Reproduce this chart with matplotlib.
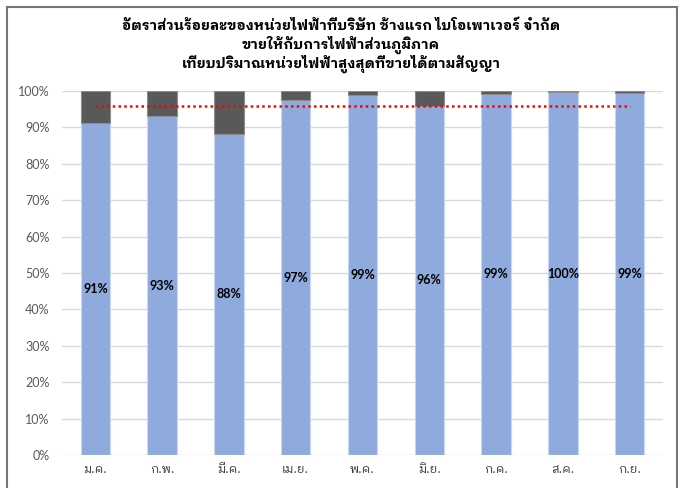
import matplotlib
matplotlib.use("Agg")
import matplotlib.pyplot as plt
from matplotlib.patches import Rectangle
import numpy as np

months = ["ม.ค.", "ก.พ.", "มี.ค.", "เม.ย.", "พ.ค.", "มิ.ย.", "ก.ค.", "ส.ค.", "ก.ย."]
sold_pct = [91.1, 93.0, 88.2, 97.4, 98.9, 96.0, 99.3, 99.6, 99.4]
target_pct = 96.0
title_lines = ["อัตราส่วนร้อยละของหน่วยไฟฟ้าที่บริษัท ช้างแรก ไบโอเพาเวอร์ จำกัด",
               "ขายให้กับการไฟฟ้าส่วนภูมิภาค",
               "เทียบปริมาณหน่วยไฟฟ้าสูงสุดที่ขายได้ตามสัญญา"]
yticks = [0, 10, 20, 30, 40, 50, 60, 70, 80, 90, 100]

thai = ['IBM Plex Sans Thai Looped', 'Noto Sans Thai Looped', 'DejaVu Sans']
latin = ['Lato', 'DejaVu Sans']

W, H = 685, 488
fig = plt.figure(figsize=(W / 100, H / 100), dpi=100)
ax = fig.add_axes([62 / W, (H - 455) / H, (663 - 62) / W, (455 - 91) / H])

x = np.arange(len(months))
blue = np.array(sold_pct) / 100.0
rest = 1.0 - blue
bw = 0.44
ax.bar(x, blue, width=bw, color="#8FAADC", edgecolor="#C9D7F0", linewidth=0.8, zorder=2)
ax.bar(x, rest, bottom=blue, width=bw, color="#595959", edgecolor="#8C8C8C", linewidth=0.8, zorder=2)

ax.plot([x[0], x[-1]], [target_pct / 100.0] * 2, color="#FF0000", linestyle=(0, (1, 1.3)),
        linewidth=1.8, zorder=3)

for xi, v in zip(x, sold_pct):
    ax.text(xi, v / 200.0, "%d%%" % round(v), ha="center", va="center",
            fontsize=9, fontweight="bold", family=latin, color="black", zorder=4)

ax.set_xlim(-0.5, len(months) - 0.5)
ax.set_ylim(0, 1.0)
ax.set_yticks([t / 100 for t in yticks])
ax.set_yticklabels(["%d%%" % t for t in yticks], family=latin, fontsize=9, color="#595959")
ax.set_xticks(x)
ax.set_xticklabels(months, family=thai, fontsize=9, color="#404040")
ax.tick_params(axis="both", length=0)
ax.tick_params(axis="y", pad=9)
ax.tick_params(axis="x", pad=6)
ax.yaxis.grid(True, color="#D9D9D9", linewidth=1.0, zorder=0)
ax.set_axisbelow(True)
for s in ax.spines.values():
    s.set_visible(False)

for line, yc in zip(title_lines, [26, 45, 64]):
    fig.text(341 / W, 1 - yc / H, line, ha="center", va="center",
             fontsize=10.2, fontweight="bold", family=thai)

# outer border
fig.patches.append(Rectangle((7 / W, -0.05), (677 - 7) / W, 1 - 7 / H + 0.05,
                             transform=fig.transFigure, fill=False,
                             edgecolor="#767676", linewidth=1.5))

fig.savefig("out.png", dpi=100)
